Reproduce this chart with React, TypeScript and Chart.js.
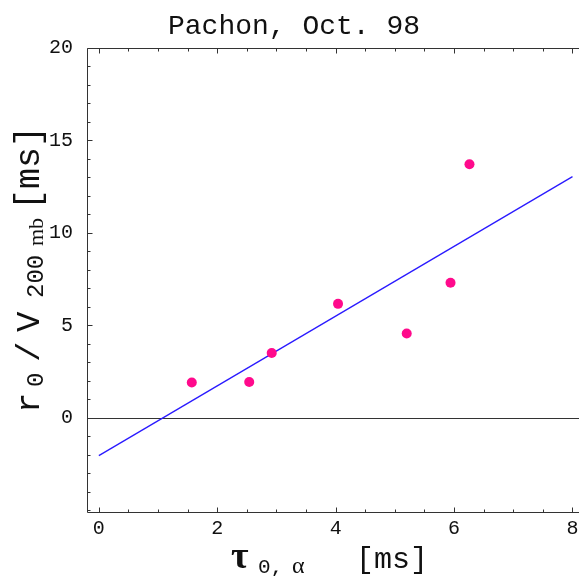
import React, { useEffect, useRef } from "react";
import { Chart, registerables } from "chart.js";

Chart.register(...registerables);

const POINT_X = [1.57, 2.54, 2.92, 4.04, 5.2, 5.94, 6.26];
const POINT_Y = [1.91, 1.93, 3.5, 6.16, 4.56, 7.3, 13.71];
const FIT_X = [0, 8];
const FIT_Y = [-2.05, 13.04];
const X_TICKS = [0, 2, 4, 6, 8];
const Y_TICKS = [0, 5, 10, 15, 20];
const X_MINOR = [0, 0.5, 1, 1.5, 2, 2.5, 3, 3.5, 4, 4.5, 5, 5.5, 6, 6.5, 7, 7.5, 8];
const Y_MINOR = [-5, -4, -3, -2, -1, 0, 1, 2, 3, 4, 5, 6, 7, 8, 9, 10, 11, 12, 13, 14, 15, 16, 17, 18, 19, 20];
const TITLE = "Pachon, Oct. 98";

const MONO = "'Liberation Mono', 'DejaVu Sans Mono', monospace";
const SERIF = "'Liberation Serif', 'DejaVu Serif', serif";
const AXIS = "#333333";

const framePlugin = {
  id: "frame",
  beforeDatasetsDraw(chart: any) {
    const { ctx, chartArea: a, scales } = chart;
    const ys = scales.y;
    ctx.save();
    ctx.strokeStyle = AXIS;
    ctx.lineWidth = 1;
    const y0 = Math.round(ys.getPixelForValue(0)) + 0.5;
    ctx.beginPath();
    ctx.moveTo(a.left, y0);
    ctx.lineTo(a.right, y0);
    ctx.stroke();
    ctx.restore();
  },
  afterDraw(chart: any) {
    const { ctx, chartArea: a, scales } = chart;
    const xs = scales.x;
    const ys = scales.y;
    ctx.save();
    ctx.strokeStyle = AXIS;
    ctx.lineWidth = 1;
    const L = Math.round(a.left) + 0.5;
    const R = Math.round(a.right) + 0.5;
    const T = Math.round(a.top) + 0.5;
    const B = Math.round(a.bottom) + 0.5;
    ctx.beginPath();
    ctx.moveTo(L, T);
    ctx.lineTo(L, B);
    ctx.lineTo(R, B);
    ctx.moveTo(L, T);
    ctx.lineTo(R, T);
    ctx.stroke();
    ctx.beginPath();
    X_MINOR.forEach((v) => {
      const px = Math.round(xs.getPixelForValue(v)) + 0.5;
      const len = X_TICKS.includes(v) ? 5 : 3;
      ctx.moveTo(px, B);
      ctx.lineTo(px, B - len);
      ctx.moveTo(px, T);
      ctx.lineTo(px, T + len);
    });
    Y_MINOR.forEach((v) => {
      const py = Math.round(ys.getPixelForValue(v)) + 0.5;
      const len = Y_TICKS.includes(v) ? 5 : 3;
      ctx.moveTo(L, py);
      ctx.lineTo(L + len, py);
    });
    ctx.stroke();

    ctx.fillStyle = "#111111";
    ctx.font = `28px ${MONO}`;
    ctx.textAlign = "center";
    ctx.textBaseline = "alphabetic";
    ctx.fillText(TITLE, 294, 34);

    // x axis label
    ctx.textAlign = "left";
    ctx.font = `bold 38px ${SERIF}`;
    ctx.fillText("\u03c4", 231, 568);
    ctx.font = `21px ${MONO}`;
    ctx.fillText("0,", 258, 573);
    ctx.font = `24px ${SERIF}`;
    ctx.fillText("\u03b1", 292, 573);
    ctx.font = `30px ${MONO}`;
    ctx.fillText("[ms]", 356, 568);

    // y axis label (rotated)
    ctx.save();
    ctx.translate(39, 412);
    ctx.rotate(-Math.PI / 2);
    ctx.font = `34px ${MONO}`;
    ctx.fillText("r", -1, 0);
    ctx.font = `24px ${MONO}`;
    ctx.fillText("0", 25, 4);
    ctx.font = `34px ${MONO}`;
    ctx.fillText("/", 50, 0);
    ctx.fillText("V", 80, 0);
    ctx.font = `24px ${MONO}`;
    ctx.fillText("200", 114, 4);
    ctx.font = `22px ${SERIF}`;
    ctx.fillText("mb", 166, 4);
    ctx.font = `35px ${MONO}`;
    ctx.fillText("[ms]", 202, 0);
    ctx.restore();

    ctx.restore();
  },
};

export default function App() {
  const ref = useRef<HTMLCanvasElement | null>(null);
  useEffect(() => {
    if (!ref.current) return;
    const chart = new Chart(ref.current, {
      type: "scatter",
      data: {
        datasets: [
          {
            label: "fit",
            type: "line",
            data: FIT_X.map((x, i) => ({ x, y: FIT_Y[i] })),
            borderColor: "#2a1aff",
            borderWidth: 1.3,
            pointRadius: 0,
            fill: false,
            order: 2,
          } as any,
          {
            label: "data",
            data: POINT_X.map((x, i) => ({ x, y: POINT_Y[i] })),
            backgroundColor: "#ff0a8c",
            borderColor: "#ff0a8c",
            pointRadius: 5,
            pointBorderWidth: 0,
            order: 1,
          },
        ],
      },
      options: {
        responsive: false,
        animation: false,
        layout: { autoPadding: false, padding: { top: 48, right: 0, left: 0, bottom: 0 } },
        plugins: {
          legend: { display: false },
          tooltip: { enabled: false },
          title: { display: false },
        },
        scales: {
          x: {
            type: "linear",
            min: -0.2,
            max: 8.11,
            grid: { display: false, drawTicks: false },
            border: { display: false },
            afterBuildTicks: (s: any) => {
              s.ticks = X_TICKS.map((v) => ({ value: v }));
            },
            afterFit: (s: any) => {
              s.height = 64;
              s.paddingLeft = 0;
              s.paddingRight = 0;
            },
            ticks: {
              color: "#111111",
              font: { family: MONO, size: 20 },
              padding: 5,
              maxRotation: 0,
              autoSkip: false,
            },
          },
          y: {
            type: "linear",
            min: -5.1,
            max: 20,
            grid: { display: false, drawTicks: false },
            border: { display: false },
            afterBuildTicks: (s: any) => {
              s.ticks = Y_TICKS.map((v) => ({ value: v }));
            },
            afterFit: (s: any) => {
              s.width = 87;
              s.paddingTop = 0;
              s.paddingBottom = 0;
            },
            ticks: {
              color: "#111111",
              font: { family: MONO, size: 20 },
              padding: 14,
              autoSkip: false,
            },
          },
        },
      } as any,
      plugins: [framePlugin],
    });
    return () => chart.destroy();
  }, []);
  return (
    <div style={{ position: "absolute", left: 0, top: 0, width: 579, height: 576, background: "#fff" }}>
      <canvas ref={ref} width={579} height={576} style={{ display: "block" }} />
    </div>
  );
}
